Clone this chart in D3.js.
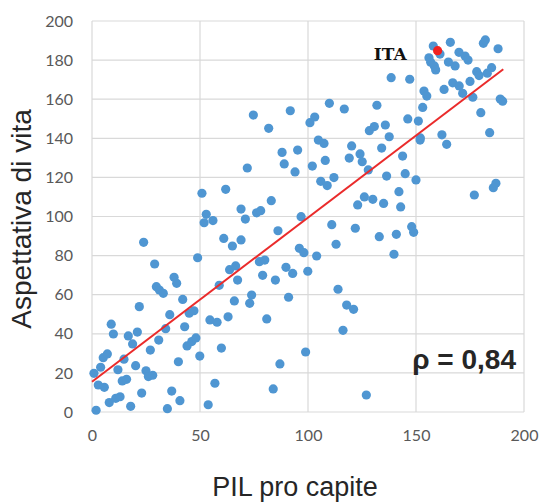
<!DOCTYPE html>
<html><head><meta charset="utf-8">
<script src="https://cdn.jsdelivr.net/npm/d3@7/dist/d3.min.js"></script>
<style>body{margin:0;background:#fff}svg{display:block}</style>
</head><body>
<script>
const gdp = [1.9,0.9,2.9,5.7,4.0,5.2,7.1,8.9,9.9,8.0,11.0,13.0,12.0,14.8,14.0,16.0,17.9,16.8,18.8,21.0,21.9,20.2,23.0,25.0,26.1,28.1,27.0,30.9,29.8,31.2,33.0,38.0,39.2,42.0,36.0,34.1,42.9,45.0,47.2,44.0,46.2,48.1,40.0,36.9,40.7,34.9,49.9,53.8,56.9,54.6,57.9,63.0,59.9,65.9,58.9,67.4,
23.9,29.0,48.9,50.9,61.9,52.9,51.9,56.0,61.0,65.0,69.0,69.0,63.7,66.5,
104.8,107.4,120.2,134.1,88.0,95.2,89.0,94.0,102.0,108.0,119.1,124.1,125.1,127.9,136.4,71.9,105.9,108.9,112.0,126.1,130.0,123.0,135.0,83.0,71.0,76.2,78.1,96.8,111.0,121.9,133.0,86.1,113.0,96.0,98.1,104.0,77.5,80.0,89.8,92.9,99.9,79.0,84.9,
73.9,73.0,80.9,91.0,113.9,117.9,121.1,116.2,98.9,87.0,83.9,127.0,
151.9,164.2,143.8,145.0,150.0,142.1,142.9,177.0,185.8,187.0,148.0,148.9,140.9,139.8,
74.7,81.8,91.8,100.9,103.1,109.9,116.8,131.9,128.4,130.7,135.8,137.6,138.5,
158.0,161.1,165.9,169.9,172.7,174.1,156.0,156.8,158.5,159.1,165.0,168.1,181.2,182.1,188.0,147.1,153.7,155.0,163.0,167.0,170.0,171.6,175.0,176.3,178.1,179.2,183.0,185.0,189.0,190.1,180.0,184.1,153.1,146.2,151.1,152.0,162.0];
const life = [0.9,19.8,13.8,12.6,22.9,27.8,29.7,44.9,39.9,4.8,7.0,7.8,21.6,27.0,15.9,16.7,2.9,38.9,34.8,40.9,53.9,23.7,9.7,21.1,18.1,18.8,31.7,36.8,64.1,62.4,60.7,68.9,65.8,57.6,49.8,42.6,43.6,50.5,51.8,33.8,36.0,37.9,25.7,10.7,5.8,1.7,28.6,3.7,14.7,47.1,45.9,48.7,32.7,56.8,64.8,67.5,
86.8,75.7,78.9,111.9,113.9,101.1,96.8,97.9,88.8,84.9,88.0,103.8,72.8,74.7,
139.1,137.4,136.1,135.0,132.8,134.0,126.9,122.8,125.8,128.7,129.9,132.0,128.0,123.8,120.7,124.8,118.0,115.8,119.9,110.0,108.8,105.9,106.7,108.1,98.7,101.9,103.0,99.9,95.8,94.0,89.7,92.7,85.8,83.7,81.5,79.8,76.9,77.7,74.0,70.9,72.0,69.9,67.5,
59.8,55.6,47.6,58.7,62.8,54.7,52.5,41.8,30.7,24.6,11.8,8.7,
139.1,136.9,130.9,121.9,118.7,112.7,104.9,111.0,114.7,117.0,94.8,91.9,90.9,80.7,
151.9,145.1,154.1,148.0,150.9,157.9,155.0,156.9,143.9,146.0,146.8,140.8,171.0,
187.2,183.1,189.1,184.0,182.1,180.0,181.2,178.9,177.0,175.0,179.0,177.0,188.6,190.3,185.8,170.2,164.2,161.6,165.0,168.4,166.8,163.0,169.1,161.0,174.1,172.1,173.3,176.1,160.1,159.0,153.1,142.9,155.8,149.9,148.8,140.2,141.8];
const itaPoint = {x: 160, y: 184.8, label: "ITA"};
const trendX = [0, 190.4];
const trendY = [15.5, 175.3];
const yTicks = [0,20,40,60,80,100,120,140,160,180,200];
const xTicks = [0,50,100,150,200];
const rhoLabel = "ρ = 0,84";
const xTitle = "PIL pro capite";
const yTitle = "Aspettativa di vita";

const W = 540, H = 502;
const m = {l: 92, t: 21, r: 16, b: 90};
const svg = d3.select("body").append("svg").attr("width", W).attr("height", H);
const x = d3.scaleLinear().domain([0,200]).range([m.l, W - m.r]);
const y = d3.scaleLinear().domain([0,200]).range([H - m.b, m.t]);

const grid = svg.append("g");
grid.selectAll(".hg").data(yTicks).join("line")
  .attr("x1", x(0)).attr("x2", x(200)).attr("y1", d => y(d)).attr("y2", d => y(d))
  .attr("stroke", "#d9d9d9").attr("stroke-width", 1.2);
grid.selectAll(".vg").data(xTicks).join("line")
  .attr("y1", y(0)).attr("y2", y(200)).attr("x1", d => x(d)).attr("x2", d => x(d))
  .attr("stroke", "#d9d9d9").attr("stroke-width", 1.2);

const yAxis = svg.append("g").attr("transform", `translate(${m.l},0)`)
  .call(d3.axisLeft(y).tickValues(yTicks).tickSize(0).tickPadding(19));
const xAxis = svg.append("g").attr("transform", `translate(0,${y(0)})`)
  .call(d3.axisBottom(x).tickValues(xTicks).tickSize(0).tickPadding(18));
[yAxis, xAxis].forEach(a => {
  a.select(".domain").remove();
  a.selectAll("text").attr("font-family", "Lato, 'Open Sans', sans-serif").attr("font-size", 16).attr("fill", "#595959");
});

const pts = gdp.map((g, i) => ({x: g, y: life[i]}));
svg.append("g").selectAll("circle").data(pts).join("circle")
  .attr("cx", d => x(d.x)).attr("cy", d => y(d.y)).attr("r", 4.6).attr("fill", "#4f96d2");

svg.append("line")
  .attr("x1", x(trendX[0])).attr("y1", y(trendY[0]))
  .attr("x2", x(trendX[1])).attr("y2", y(trendY[1]))
  .attr("stroke", "#ea2b2b").attr("stroke-width", 2);

svg.append("circle").attr("cx", x(itaPoint.x)).attr("cy", y(itaPoint.y)).attr("r", 4.6).attr("fill", "#f22222");
svg.append("text").attr("x", x(itaPoint.x) - 31).attr("y", y(itaPoint.y) + 9)
  .attr("text-anchor", "end").attr("font-family", "'DejaVu Serif', serif").attr("font-weight", "bold")
  .attr("font-size", 17).attr("fill", "#111").text(itaPoint.label);

svg.append("text").attr("x", 516).attr("y", 369).attr("text-anchor", "end")
  .attr("font-family", "'Liberation Sans', Arial, sans-serif").attr("font-weight", "bold")
  .attr("font-size", 28).attr("fill", "#262626").text(rhoLabel);

svg.append("text").attr("x", 295).attr("y", 496).attr("text-anchor", "middle")
  .attr("font-family", "'Liberation Sans', Arial, sans-serif").attr("font-size", 27).attr("fill", "#262626").text(xTitle);
svg.append("text").attr("transform", `translate(31,219) rotate(-90)`).attr("text-anchor", "middle")
  .attr("font-family", "'Liberation Sans', Arial, sans-serif").attr("font-size", 28).attr("fill", "#262626").text(yTitle);
</script>
</body></html>
